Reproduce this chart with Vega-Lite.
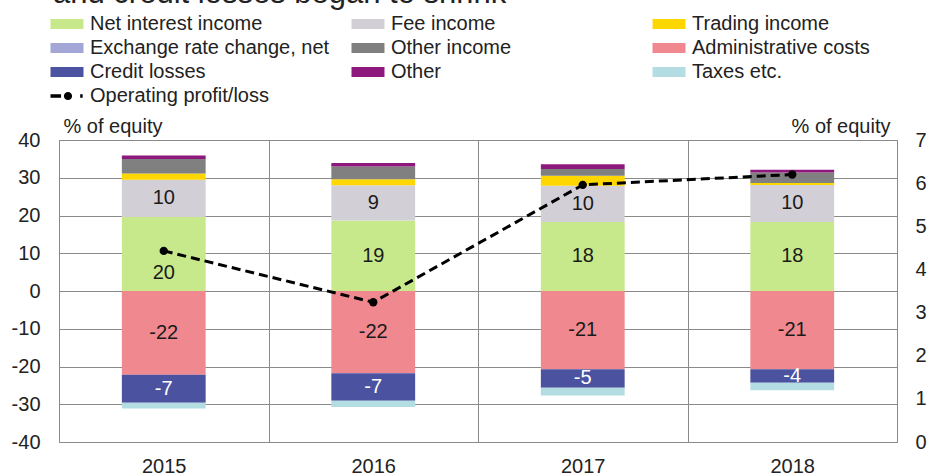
{
  "$schema": "https://vega.github.io/schema/vega-lite/v6.json",
  "autosize": {"type": "none"},
  "width": 838,
  "height": 302,
  "padding": {"left": 59, "top": 140, "right": 31, "bottom": 34},
  "background": "white",
  "config": {
    "font": "Liberation Sans",
    "view": {"stroke": "#8a8a8a", "strokeWidth": 1},
    "axis": {"labelFont": "Liberation Sans", "titleFont": "Liberation Sans", "labelFontSize": 20, "titleFontSize": 20, "labelColor": "#222", "titleColor": "#222", "titleFontWeight": "normal"},
    "legend": {"labelFont": "Liberation Sans", "labelFontSize": 20, "labelColor": "#222"}
  },
  "title": {
    "text": "and credit losses began to shrink",
    "anchor": "start",
    "frame": "group",
    "fontSize": 31,
    "fontWeight": "normal",
    "color": "#222",
    "baseline": "alphabetic",
    "offset": 10,
    "dy": 30,
    "dx": -6
  },
  "datasets": {
    "items": [
      {"year": "2015", "category": "Net interest income", "value": 19.6},
      {"year": "2015", "category": "Fee income", "value": 9.9},
      {"year": "2015", "category": "Trading income", "value": 1.6},
      {"year": "2015", "category": "Exchange rate change, net", "value": 0},
      {"year": "2015", "category": "Other income", "value": 3.9},
      {"year": "2015", "category": "Other", "value": 0.9},
      {"year": "2015", "category": "Administrative costs", "value": -22.2},
      {"year": "2015", "category": "Credit losses", "value": -7.4},
      {"year": "2015", "category": "Taxes etc.", "value": -1.5},
      {"year": "2016", "category": "Net interest income", "value": 18.7},
      {"year": "2016", "category": "Fee income", "value": 9.3},
      {"year": "2016", "category": "Trading income", "value": 1.6},
      {"year": "2016", "category": "Exchange rate change, net", "value": 0},
      {"year": "2016", "category": "Other income", "value": 3.4},
      {"year": "2016", "category": "Other", "value": 0.9},
      {"year": "2016", "category": "Administrative costs", "value": -21.8},
      {"year": "2016", "category": "Credit losses", "value": -7.3},
      {"year": "2016", "category": "Taxes etc.", "value": -1.6},
      {"year": "2017", "category": "Net interest income", "value": 18.3},
      {"year": "2017", "category": "Fee income", "value": 9.6},
      {"year": "2017", "category": "Trading income", "value": 2.6},
      {"year": "2017", "category": "Exchange rate change, net", "value": 0},
      {"year": "2017", "category": "Other income", "value": 1.8},
      {"year": "2017", "category": "Other", "value": 1.3},
      {"year": "2017", "category": "Administrative costs", "value": -20.7},
      {"year": "2017", "category": "Credit losses", "value": -4.9},
      {"year": "2017", "category": "Taxes etc.", "value": -2.1},
      {"year": "2018", "category": "Net interest income", "value": 18.3},
      {"year": "2018", "category": "Fee income", "value": 9.8},
      {"year": "2018", "category": "Trading income", "value": 0.5},
      {"year": "2018", "category": "Exchange rate change, net", "value": 0},
      {"year": "2018", "category": "Other income", "value": 2.8},
      {"year": "2018", "category": "Other", "value": 0.7},
      {"year": "2018", "category": "Administrative costs", "value": -20.7},
      {"year": "2018", "category": "Credit losses", "value": -3.6},
      {"year": "2018", "category": "Taxes etc.", "value": -2.0}
    ],
    "profit": [
      {"year": "2015", "series": "Operating profit/loss", "profit": 4.43},
      {"year": "2016", "series": "Operating profit/loss", "profit": 3.24},
      {"year": "2017", "series": "Operating profit/loss", "profit": 5.96},
      {"year": "2018", "series": "Operating profit/loss", "profit": 6.2}
    ]
  },
  "resolve": {"scale": {"y": "independent", "color": "independent"}},
  "layer": [
    {
      "data": {"name": "items"},
      "transform": [
        {"calculate": "indexof(['Net interest income','Fee income','Trading income','Exchange rate change, net','Other income','Other','Administrative costs','Credit losses','Taxes etc.'], datum.category)", "as": "k"}
      ],
      "encoding": {
        "x": {
          "field": "year", "type": "nominal",
          "scale": {"paddingInner": 0, "paddingOuter": 0},
          "axis": {"title": null, "labelAngle": 0, "ticks": false, "domain": false, "grid": true, "tickBand": "extent", "gridColor": "#8a8a8a", "gridOpacity": 1, "labelPadding": 14, "labelBaseline": "top"}
        }
      },
      "layer": [
        {
          "mark": {"type": "bar", "width": {"band": 0.4}},
          "encoding": {
            "y": {
              "field": "value", "type": "quantitative", "stack": "zero",
              "scale": {"domain": [-40, 40], "nice": false},
              "axis": {"values": [-40, -30, -20, -10, 0, 10, 20, 30, 40], "labelExpr": "toString(datum.value)", "labelOverlap": false, "grid": true, "title": "% of equity", "titleAngle": 0, "titleAlign": "left", "titleBaseline": "alphabetic", "titleX": 4, "titleY": -8, "ticks": false, "domain": false, "gridColor": "#8a8a8a", "gridOpacity": 1, "labelPadding": 19}
            },
            "color": {
              "field": "category", "type": "nominal",
              "scale": {
                "domain": ["Net interest income", "Exchange rate change, net", "Credit losses", "Fee income", "Other income", "Other", "Trading income", "Administrative costs", "Taxes etc."],
                "range": ["#c8e98b", "#a3a6d6", "#4b529f", "#d3cfd6", "#808080", "#8e197d", "#ffd700", "#f0888f", "#b3dde2"]
              },
              "legend": {
                "title": null, "orient": "none", "legendX": -2, "legendY": -126, "columns": 3, "gridAlign": "all", "columnPadding": 21, "rowPadding": 4,
                "symbolType": "M-2,-0.6H2V0.6H-2Z", "symbolSize": 272, "symbolStrokeWidth": 0, "labelOffset": 13, "labelLimit": 400
              }
            },
            "order": {"field": "k", "type": "quantitative"}
          }
        },
        {
          "mark": {"type": "text", "fontSize": 20, "baseline": "middle", "dy": {"expr": "datum.year == '2015' && datum.category == 'Net interest income' ? 19 : 0"}},
          "encoding": {
            "y": {
              "field": "value", "type": "quantitative", "stack": "zero", "bandPosition": 0.5,
              "scale": {"domain": [-40, 40], "nice": false},
              "axis": {"values": [-40, -30, -20, -10, 0, 10, 20, 30, 40], "labelExpr": "toString(datum.value)", "labelOverlap": false, "grid": true, "title": "% of equity", "titleAngle": 0, "titleAlign": "left", "titleBaseline": "alphabetic", "titleX": 4, "titleY": -8, "ticks": false, "domain": false, "gridColor": "#8a8a8a", "gridOpacity": 1, "labelPadding": 19}
            },
            "detail": {"field": "category"},
            "order": {"field": "k", "type": "quantitative"},
            "text": {
              "condition": {"test": "indexof(['Net interest income','Fee income','Administrative costs','Credit losses'], datum.category) >= 0", "value": {"expr": "toString(round(datum.value))"}},
              "value": ""
            },
            "color": {
              "condition": {"test": "datum.category == 'Credit losses'", "value": "#ffffff"},
              "value": "#1a1a1a"
            }
          }
        },
        {
          "mark": {"type": "rule", "color": "black", "strokeWidth": 2.5},
          "encoding": {
            "y": {
              "datum": 0, "type": "quantitative",
              "scale": {"domain": [-40, 40], "nice": false},
              "axis": {"values": [-40, -30, -20, -10, 0, 10, 20, 30, 40], "labelExpr": "toString(datum.value)", "labelOverlap": false, "grid": true, "title": "% of equity", "titleAngle": 0, "titleAlign": "left", "titleBaseline": "alphabetic", "titleX": 4, "titleY": -8, "ticks": false, "domain": false, "gridColor": "#8a8a8a", "gridOpacity": 1, "labelPadding": 19}
            }
          }
        }
      ]
    },
    {
      "data": {"name": "profit"},
      "encoding": {
        "x": {"field": "year", "type": "nominal"},
        "y": {
          "field": "profit", "type": "quantitative",
          "scale": {"domain": [0, 7], "nice": false},
          "axis": {"orient": "right", "values": [0, 1, 2, 3, 4, 5, 6, 7], "labelOverlap": false, "grid": false, "ticks": false, "domain": false, "labelPadding": 18, "title": "% of equity", "titleAngle": 0, "titleAlign": "right", "titleBaseline": "alphabetic", "titleX": -7, "titleY": -8}
        }
      },
      "layer": [
        {
          "mark": {"type": "line", "color": "black", "strokeWidth": 3, "strokeDash": [9, 5]}
        },
        {
          "mark": {"type": "point", "filled": true, "size": 70, "opacity": 1},
          "encoding": {
            "color": {
              "field": "series", "type": "nominal",
              "scale": {"domain": ["Operating profit/loss"], "range": ["black"]},
              "legend": {
                "title": null, "orient": "none", "legendX": -2, "legendY": -54,
                "symbolType": "M-2,-0.2H-0.72V0.2H-2Z M-0.38,0A0.5,0.5 0 1,0 0.62,0A0.5,0.5 0 1,0 -0.38,0Z M1.6,-0.2H1.9V0.2H1.6Z",
                "symbolSize": 272, "symbolFillColor": "black", "symbolStrokeWidth": 0, "labelOffset": 13, "symbolOpacity": 1, "labelLimit": 400
              }
            }
          }
        }
      ]
    }
  ]
}
